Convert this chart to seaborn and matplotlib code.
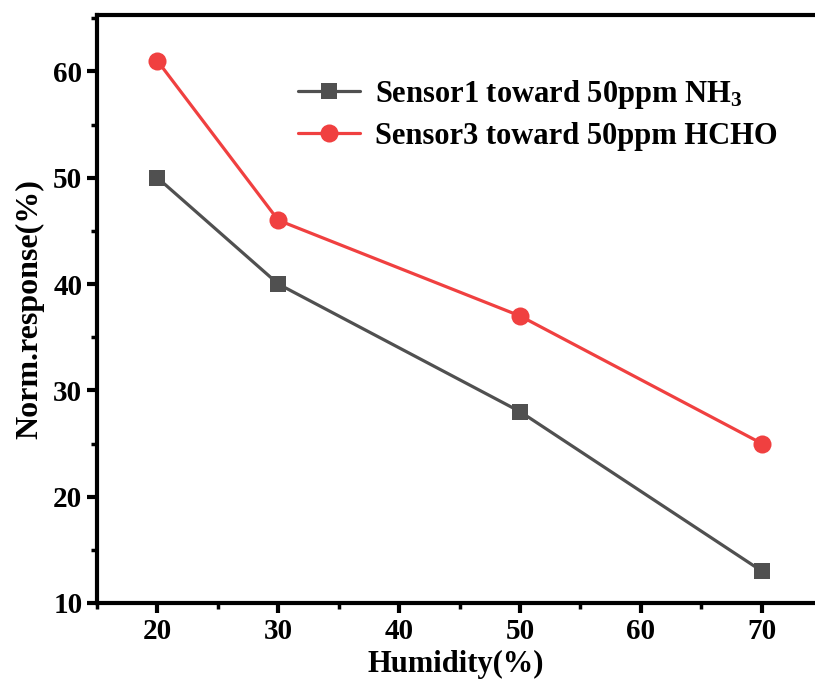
import matplotlib
matplotlib.use("Agg")
import matplotlib.pyplot as plt
import seaborn as sns
import pandas as pd
from matplotlib.ticker import MultipleLocator

humidity = [20, 30, 50, 70]
sensor1_nh3 = [50, 40, 28, 13]
sensor3_hcho = [61, 46, 37, 25]
labels = [r"Sensor1 toward 50ppm NH$_\mathregular{3}$", "Sensor3 toward 50ppm HCHO"]

sns.set_style("ticks")
plt.rcParams["font.family"] = ["Liberation Serif", "DejaVu Serif"]
plt.rcParams["font.weight"] = "bold"
plt.rcParams["mathtext.default"] = "regular"
plt.rcParams["text.color"] = "black"
plt.rcParams["axes.labelcolor"] = "black"
plt.rcParams["xtick.color"] = "black"
plt.rcParams["ytick.color"] = "black"

fig = plt.figure(figsize=(8.15, 6.86), dpi=100)
ax = fig.add_axes([0.119, 0.121, 0.881, 0.857])

df1 = pd.DataFrame({"x": humidity, "y": sensor1_nh3})
df2 = pd.DataFrame({"x": humidity, "y": sensor3_hcho})
sns.lineplot(data=df1, x="x", y="y", ax=ax, color="#505050", marker="s",
             markersize=12, markeredgewidth=0, linewidth=2.3, label=labels[0])
sns.lineplot(data=df2, x="x", y="y", ax=ax, color="#f04040", marker="o",
             markersize=13, markeredgewidth=0, linewidth=2.3, label=labels[1])

ax.set_xlim(15, 74.4)
ax.set_ylim(10, 65.3)
ax.xaxis.set_major_locator(MultipleLocator(10))
ax.xaxis.set_minor_locator(MultipleLocator(5))
ax.yaxis.set_major_locator(MultipleLocator(10))
ax.yaxis.set_minor_locator(MultipleLocator(5))
ax.tick_params(which="major", length=7, width=3, labelsize=21, direction="out",
               colors="black")
ax.tick_params(which="minor", length=4, width=2.5, direction="out", colors="black")
for lab in ax.get_xticklabels() + ax.get_yticklabels():
    lab.set_fontweight("bold")

for s in ["left", "bottom", "top"]:
    ax.spines[s].set_linewidth(3)
    ax.spines[s].set_color("black")
ax.spines["right"].set_visible(False)

ax.set_xlabel("Humidity(%)", fontsize=22, fontweight="bold", labelpad=4)
ax.set_ylabel("Norm.response(%)", fontsize=23, fontweight="bold", labelpad=6)

leg = ax.legend(loc="upper left", bbox_to_anchor=(0.241, 0.94), frameon=False,
                prop={"family": "Liberation Serif", "weight": "bold", "size": 22},
                handlelength=2.05, handletextpad=0.5, labelspacing=0.35)

fig.savefig("out.png", dpi=100)
